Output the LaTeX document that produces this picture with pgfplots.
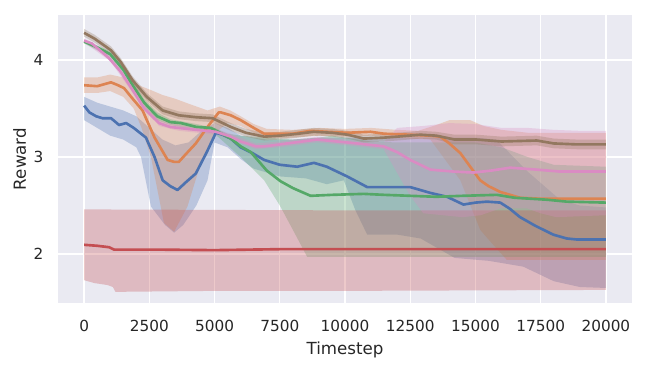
\documentclass[border=0pt]{standalone}
\usepackage{fontspec}
\setmainfont{DejaVu Sans}
\usepackage{pgfplots}
\pgfplotsset{compat=1.18}
\definecolor{bg}{HTML}{EAEAF2}
\definecolor{txt}{HTML}{262626}
\definecolor{cblue}{HTML}{4C72B0}
\definecolor{corange}{HTML}{DD8452}
\definecolor{cgreen}{HTML}{55A868}
\definecolor{cred}{HTML}{C44E52}
\definecolor{cpink}{HTML}{DA8BC3}
\definecolor{cbrown}{HTML}{937860}
\begin{document}
\begin{tikzpicture}
\begin{axis}[
  width=413.3pt, height=207.4pt, scale only axis,
  xmin=-1000, xmax=21000, ymin=1.495, ymax=4.464,
  axis background/.style={fill=bg},
  axis line style={draw=none},
  grid=major, major grid style={white, line width=1pt},
  tick style={draw=none},
  xtick={0,2500,...,20000}, ytick={2,3,4},
  scaled x ticks=false,
  ticklabel style={font=\fontsize{11}{13}\selectfont, text=txt, inner sep=0pt},
  /pgf/number format/assume math mode=true,
  /pgf/number format/1000 sep={},
  xticklabel shift=12pt, yticklabel shift=10.4pt,
  xlabel={Timestep}, ylabel={Reward},
  label style={font=\fontsize{12}{14}\selectfont, text=txt, inner sep=0pt},
  xlabel style={at={(axis description cs:0.5,0)}, anchor=north, yshift=-27.4pt},
  ylabel style={at={(axis description cs:-0.0552,0.5)}, anchor=south},
  every axis plot/.append style={line join=round},
]
% ---- bands
\addplot[draw=none, fill=cblue, fill opacity=0.3, forget plot] coordinates {
 (0,3.62) (500,3.56) (1000,3.52) (1500,3.48) (2000,3.42) (2500,3.30) (3000,3.18) (3500,3.12)
 (4000,3.15) (4500,3.27) (5000,3.35) (5500,3.30) (6000,3.22) (7000,3.18) (8000,3.18) (9000,3.20)
 (10000,3.20) (11000,3.20) (12000,3.20) (13000,3.20) (14000,3.20) (15000,3.20) (15800,3.18)
 (17000,2.85) (18240,2.56) (19000,2.50) (20000,2.48)
 (20000,1.65) (19000,1.66) (18000,1.72) (16830,1.87) (15500,1.93) (14200,1.96) (12900,2.16)
 (12000,2.20) (10850,2.20) (10400,2.45) (9950,2.76) (9300,2.72) (8500,2.78) (7500,2.80)
 (6500,2.88) (6000,2.98) (5500,3.10) (5000,3.15) (4730,2.76) (4300,2.50) (3800,2.30) (3450,2.22)
 (3100,2.30) (2560,2.49) (2180,3.00) (2000,3.10) (1500,3.18) (1000,3.22) (500,3.30) (0,3.38)
} -- cycle;
\addplot[draw=none, fill=corange, fill opacity=0.3, forget plot] coordinates {
 (0,3.82) (500,3.82) (1000,3.85) (1500,3.82) (2000,3.75) (2560,3.69) (3000,3.64) (3500,3.60)
 (4000,3.55) (4730,3.48) (5200,3.52) (5600,3.48) (6000,3.42) (6500,3.34) (7000,3.29) (8000,3.28)
 (9000,3.30) (10000,3.29) (11000,3.30) (12000,3.28) (12800,3.27) (13500,3.33) (14000,3.38)
 (14800,3.38) (15300,3.32) (16000,3.28) (17000,3.25) (18000,3.25) (20000,3.25)
 (20000,1.94) (16200,1.94) (15500,2.15) (15180,2.25) (14420,2.76) (13270,3.18) (12500,3.19)
 (11000,3.22) (10000,3.21) (9000,3.22) (8000,3.20) (7000,3.19) (6500,3.25) (6000,3.32)
 (5500,3.35) (4980,3.24) (4350,2.83) (3960,2.49) (3450,2.23) (3060,2.32) (2560,3.00)
 (2200,3.30) (1900,3.50) (1500,3.62) (1000,3.68) (500,3.66) (0,3.66)
} -- cycle;
\addplot[draw=none, fill=cgreen, fill opacity=0.3, forget plot] coordinates {
 (0,4.21) (1000,4.09) (1500,3.94) (1860,3.78) (2300,3.60) (2800,3.46) (3300,3.39) (4300,3.34)
 (5000,3.30) (5500,3.24) (6000,3.22) (7000,3.20) (8000,3.18) (9000,3.20) (9500,3.22) (10000,3.20)
 (11000,3.16) (12000,3.15) (13000,3.15) (15000,3.15) (16000,3.10) (17000,3.00) (18000,2.92) (20000,2.90)
 (20000,1.97) (8550,1.97) (8000,2.25) (7500,2.50) (6900,2.76) (6000,3.00) (5500,3.12)
 (5000,3.24) (4300,3.28) (3300,3.33) (2800,3.38) (2300,3.52) (1860,3.70) (1500,3.86)
 (1000,4.03) (0,4.17)
} -- cycle;
\addplot[draw=none, fill=cred, fill opacity=0.3, forget plot] coordinates {
 (0,2.46) (5000,2.455) (10000,2.45) (20000,2.45)
 (20000,1.63) (15000,1.625) (10000,1.62) (5000,1.62) (1200,1.61) (1100,1.66) (900,1.68)
 (400,1.70) (0,1.73)
} -- cycle;
\addplot[draw=none, fill=cpink, fill opacity=0.3, forget plot] coordinates {
 (0,4.22) (1000,4.05) (1860,3.72) (2870,3.38) (3630,3.33) (5050,3.29) (5620,3.24) (6580,3.14)
 (7500,3.16) (8930,3.21) (10460,3.17) (11480,3.15) (12000,3.30) (13000,3.32) (14000,3.35)
 (15000,3.34) (16000,3.30) (17000,3.30) (18000,3.28) (19000,3.27) (20000,3.27)
 (20000,2.40) (18100,2.38) (17500,2.42) (16980,2.47) (15950,2.47) (15200,2.40) (14500,2.38)
 (13000,2.42) (12500,2.60) (11480,3.08) (10460,3.11) (8930,3.15) (7500,3.10) (6580,3.08)
 (5620,3.18) (5050,3.23) (3630,3.27) (2870,3.32) (1860,3.66) (1000,3.99) (0,4.18)
} -- cycle;
\addplot[draw=none, fill=cbrown, fill opacity=0.3, forget plot] coordinates {
 (0,4.32) (400,4.26) (1030,4.14) (1400,4.02) (1860,3.83) (2400,3.66) (3010,3.52) (3630,3.47)
 (4300,3.45) (4920,3.44) (5620,3.35) (6200,3.29) (6900,3.25) (7500,3.26) (8200,3.28) (8800,3.30)
 (9500,3.29) (10100,3.27) (10720,3.23) (11500,3.24) (12000,3.25) (12890,3.27) (13500,3.26)
 (14200,3.23) (15050,3.23) (16000,3.21) (17350,3.22) (18000,3.19) (18880,3.18) (20000,3.18)
 (20000,3.08) (18880,3.08) (18000,3.09) (17350,3.12) (16000,3.11) (15050,3.13) (14200,3.13)
 (13500,3.18) (12890,3.19) (12000,3.17) (11500,3.16) (10720,3.15) (10100,3.19) (9500,3.21)
 (8800,3.22) (8200,3.20) (7500,3.18) (6900,3.17) (6200,3.21) (5620,3.27) (4920,3.36)
 (4300,3.37) (3630,3.39) (3010,3.44) (2400,3.58) (1860,3.75) (1400,3.94) (1030,4.06)
 (400,4.18) (0,4.24)
} -- cycle;
% ---- mean lines
\addplot[cblue, line width=1.9pt] coordinates {
 (0,3.53) (200,3.46) (460,3.42) (700,3.40) (1030,3.40) (1340,3.33) (1610,3.35) (1900,3.30)
 (2370,3.20) (2700,3.00) (3010,2.76) (3300,2.70) (3580,2.66) (3900,2.74) (4280,2.83) (4700,3.05)
 (5050,3.25) (5300,3.23) (5620,3.19) (6000,3.10) (6450,3.04) (6900,2.97) (7500,2.92) (8170,2.90)
 (8810,2.94) (9300,2.90) (10080,2.80) (10500,2.74) (10850,2.69) (11500,2.69) (12500,2.69)
 (13270,2.63) (13910,2.59) (14540,2.51) (15000,2.53) (15440,2.54) (15950,2.53) (16300,2.47)
 (16710,2.38) (17300,2.29) (17980,2.20) (18500,2.16) (18880,2.15) (20000,2.15)
};
\addplot[corange, line width=1.9pt] coordinates {
 (0,3.74) (500,3.73) (1030,3.77) (1300,3.74) (1530,3.71) (1800,3.62) (2240,3.48) (2700,3.20)
 (3200,2.97) (3450,2.95) (3630,2.95) (3900,3.03) (4280,3.14) (4700,3.30) (5160,3.46) (5240,3.46)
 (5620,3.43) (6000,3.38) (6500,3.30) (6900,3.24) (7530,3.24) (8000,3.24) (8680,3.27) (9300,3.26)
 (10080,3.25) (10980,3.26) (11500,3.24) (12500,3.23) (13270,3.22) (13650,3.21) (14000,3.14)
 (14420,3.04) (14800,2.90) (15180,2.76) (15500,2.70) (15950,2.64) (16710,2.58) (17500,2.57)
 (20000,2.57)
};
\addplot[cgreen, line width=1.9pt] coordinates {
 (0,4.19) (500,4.13) (1000,4.06) (1500,3.90) (1860,3.74) (2300,3.56) (2800,3.42) (3300,3.36)
 (3710,3.35) (4300,3.31) (4860,3.30) (5000,3.28) (5620,3.19) (6000,3.11) (6390,3.05) (7000,2.86)
 (7530,2.75) (8000,2.68) (8680,2.60) (9500,2.61) (10720,2.62) (11500,2.61) (12500,2.60)
 (13500,2.59) (14500,2.60) (15820,2.61) (16500,2.58) (17730,2.56) (18500,2.54) (20000,2.53)
};
\addplot[cred, line width=1.9pt] coordinates {
 (0,2.095) (500,2.085) (960,2.07) (1150,2.045) (3000,2.045) (5000,2.04) (7500,2.05)
 (12500,2.05) (20000,2.05)
};
\addplot[cpink, line width=1.9pt] coordinates {
 (0,4.20) (300,4.17) (950,4.02) (1400,3.88) (1860,3.69) (2300,3.50) (2870,3.35) (3300,3.31)
 (3630,3.30) (4300,3.28) (5050,3.26) (5620,3.21) (6000,3.16) (6580,3.11) (6900,3.11) (7500,3.13)
 (8930,3.18) (9700,3.16) (10460,3.14) (11480,3.11) (12000,3.05) (12500,2.97) (13270,2.87)
 (14160,2.85) (14930,2.84) (15600,2.86) (16330,2.89) (17350,2.87) (18240,2.85) (20000,2.85)
};
\addplot[cbrown, line width=1.9pt] coordinates {
 (0,4.28) (400,4.22) (1030,4.10) (1400,3.98) (1860,3.79) (2400,3.62) (3010,3.48) (3630,3.43)
 (4300,3.41) (4920,3.40) (5620,3.31) (6200,3.25) (6900,3.21) (7500,3.22) (8200,3.24) (8800,3.26)
 (9500,3.25) (10100,3.23) (10720,3.19) (11500,3.20) (12000,3.21) (12890,3.23) (13500,3.22)
 (14200,3.18) (15050,3.18) (16000,3.16) (17350,3.17) (18000,3.14) (18880,3.13) (20000,3.13)
};
\end{axis}
\pgfresetboundingbox
\path ([shift={(-41.8pt,-46.1pt)}]current axis.south west) rectangle ([shift={(10.8pt,10.8pt)}]current axis.north east);
\end{tikzpicture}
\end{document}
